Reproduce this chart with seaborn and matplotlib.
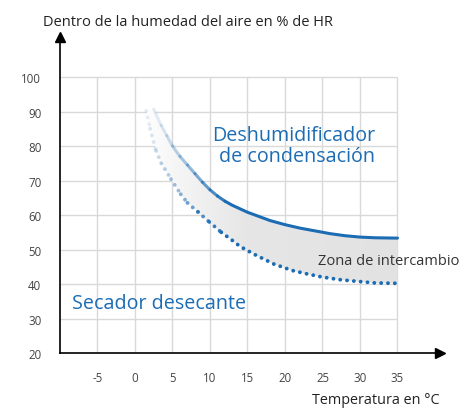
import numpy as np
import seaborn as sns
import matplotlib.pyplot as plt
from matplotlib.colors import LinearSegmentedColormap

# curves (temperature in °C, relative humidity in %)
cond_temp = [2.5, 3.5, 4.25, 5, 6, 7, 8, 9, 10, 11, 12, 13, 14, 15, 16, 17, 18,
             20, 22, 24, 26, 28, 30, 32, 35]
cond_rh = [90.7, 86, 83, 80, 77, 74.5, 72, 69.5, 67.3, 65.5, 64, 62.8, 61.8, 60.8,
           60, 59.2, 58.4, 57.2, 56.2, 55.4, 54.6, 54, 53.6, 53.4, 53.3]

des_temp = [1.5, 2, 2.8, 3.5, 4.8, 6.1, 7, 8.4, 9.9, 11.5, 13, 14, 16, 18.5, 21,
            23, 25, 27.5, 30, 32, 35]
des_rh = [90.2, 85, 78.6, 75, 70.4, 66, 63.5, 60.9, 58, 55, 52.6, 50.9, 48.5,
          45.8, 43.9, 42.9, 42, 41.2, 40.7, 40.3, 40.2]

x_ticks = [-10, -5, 0, 5, 10, 15, 20, 25, 30, 35]
x_labels = ["", "-5", "0", "5", "10", "15", "20", "25", "30", "35"]
y_ticks = [20, 30, 40, 50, 60, 70, 80, 90, 100]

blue = "#1c6cb4"

sns.set_style("white")
plt.rcParams["font.family"] = ["Open Sans", "DejaVu Sans"]

fig = plt.figure(figsize=(4.65, 4.1), dpi=100)
ax = fig.add_axes([60 / 465, 56 / 410, 380 / 465, 316 / 410])

# grid only inside the data box
ax.vlines(x_ticks[1:], 20, 100, color="#d9d9d9", lw=1, zorder=0)
ax.hlines(y_ticks[1:], -10, 35, color="#d9d9d9", lw=1, zorder=0)

# shaded exchange zone with a left-to-right gradient
poly_x = cond_temp + des_temp[::-1]
poly_y = cond_rh + des_rh[::-1]
zone = ax.fill(poly_x, poly_y, facecolor="none", edgecolor="none")[0]
cmap = LinearSegmentedColormap.from_list(
    "zone", [(0, "#ffffff"), (0.12, "#f6f6f6"), (0.4, "#e6e6e6"), (1, "#e2e2e2")])
grad = np.linspace(0, 1, 256).reshape(1, -1)
img = ax.imshow(grad, cmap=cmap, extent=[1, 36, 38, 92], aspect="auto", zorder=1)
img.set_clip_path(zone)

# lines fade in from the top-left
def faded(xs, ys, n_fade, **kw):
    for i in range(n_fade):
        a = 0.12 + 0.88 * (i / n_fade) ** 1.3
        ax.plot(xs[i:i + 2], ys[i:i + 2], alpha=a, **kw)
    sns.lineplot(x=xs[n_fade:], y=ys[n_fade:], ax=ax, sort=False, **kw)

faded(cond_temp, cond_rh, 10, color=blue, lw=2.2, zorder=3, solid_capstyle="round")
faded(des_temp, des_rh, 9, color=blue, lw=2.8, zorder=3,
      linestyle=(0, (0.01, 1.75)), dash_capstyle="round")

ax.set_xlim(-10, 40.67)
ax.set_ylim(20, 111.6)

# axes with arrows
for s in ["top", "right"]:
    ax.spines[s].set_visible(False)
for s in ["left", "bottom"]:
    ax.spines[s].set_color("black")
    ax.spines[s].set_linewidth(1.2)
ax.plot(1, 0, ">k", ms=7, transform=ax.transAxes, clip_on=False)
ax.plot(0, 1, "^k", ms=7, transform=ax.transAxes, clip_on=False)

ax.set_xticks(x_ticks, x_labels)
ax.set_yticks(y_ticks)
ax.tick_params(axis="x", length=6, width=1, color="black", pad=7,
               labelsize=8.3, labelcolor="#444444")
ax.tick_params(axis="y", length=9.5, width=1, color="black", pad=4,
               labelsize=8.3, labelcolor="#444444")
ax.set_xlabel("")
ax.set_ylabel("")

ax.text(32, 80.2, "Deshumidificador\nde condensación", color=blue, fontsize=14.2,
        ha="right", va="center", linespacing=1.1)
ax.text(-8.4, 34.5, "Secador desecante", color=blue, fontsize=14.2, va="center")
ax.text(24.4, 46.7, "Zona de intercambio", color="#333333", fontsize=10.5, va="center")

fig.text(43 / 465, 1 - 22 / 410, "Dentro de la humedad del aire en % de HR",
         fontsize=10.5, color="#222222", va="center", ha="left")
fig.text(440 / 465, 2 / 410, "Temperatura en °C", fontsize=10.4,
         color="#222222", va="bottom", ha="right")

fig.savefig("out.png", dpi=100)
